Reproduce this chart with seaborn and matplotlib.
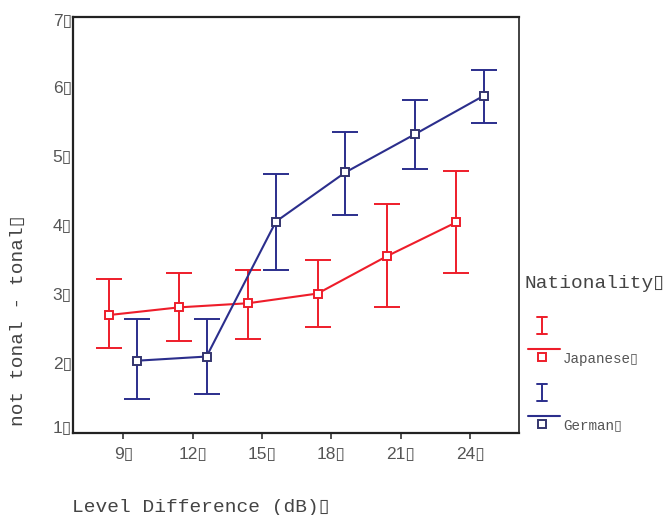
import pandas as pd
import matplotlib
matplotlib.use('Agg')
import matplotlib.pyplot as plt
import matplotlib.transforms as mtransforms
from matplotlib.lines import Line2D
import seaborn as sns

# Values
levels = [9, 12, 15, 18, 21, 24]
japanese_mean = [2.70, 2.81, 2.87, 3.01, 3.55, 4.04]
japanese_low = [2.22, 2.33, 2.35, 2.52, 2.81, 3.30]
japanese_high = [3.22, 3.30, 3.35, 3.49, 4.30, 4.78]
german_mean = [2.04, 2.10, 4.05, 4.76, 5.31, 5.87]
german_low = [1.48, 1.56, 3.35, 4.15, 4.81, 5.47]
german_high = [2.64, 2.64, 4.73, 5.34, 5.81, 6.24]
y_ticks = [1, 2, 3, 4, 5, 6, 7]

BOX = '\u25af'  # the missing-glyph box shown after every label
RED = '#ee1d2a'
BLUE = '#2b2e8c'
BLUE_EDGE = '#34356e'

df = pd.concat([
    pd.DataFrame({'level': levels, 'mean': japanese_mean, 'low': japanese_low,
                  'high': japanese_high, 'Nationality': 'Japanese'}),
    pd.DataFrame({'level': levels, 'mean': german_mean, 'low': german_low,
                  'high': german_high, 'Nationality': 'German'}),
])
# dodge the two groups a little around each level
dodge = {'Japanese': -0.6, 'German': 0.6}
df['x'] = df['level'] + df['Nationality'].map(dodge)

sns.set_style('white')
plt.rcParams['font.family'] = ['Liberation Mono', 'Noto Sans CJK JP', 'DejaVu Sans']

W, H = 666, 515
fig = plt.figure(figsize=(W / 100, H / 100), dpi=100)
ax = fig.add_axes([73.3 / W, 1 - 432.7 / H, (519.3 - 73.3) / W, (432.7 - 17.3) / H])

styles = {'Japanese': (RED, RED), 'German': (BLUE, BLUE_EDGE)}
for nat in ['Japanese', 'German']:
    sub = df[df['Nationality'] == nat]
    col, edge = styles[nat]
    ax.errorbar(sub['x'], sub['mean'],
                yerr=[sub['mean'] - sub['low'], sub['high'] - sub['mean']],
                fmt='none', ecolor=col, elinewidth=1.4, capsize=9.6, capthick=1.4, zorder=2)
    sns.lineplot(data=sub, x='x', y='mean', ax=ax, color=col, linewidth=1.5,
                 marker='s', markersize=6, markerfacecolor='white',
                 markeredgecolor=edge, markeredgewidth=1.4, legend=False, zorder=3)

ax.set_xlim(6.84, 26.12)
ax.set_ylim(1, 7)
ax.set_xticks(levels)
ax.set_xticklabels([f'{v}{BOX}' for v in levels])
ax.set_yticks(y_ticks)
ax.set_yticklabels([f'{v}{BOX}' for v in y_ticks])
ax.set_xlabel('')
ax.set_ylabel('')

tick_family = ['Liberation Sans', 'Noto Sans CJK JP', 'DejaVu Sans']
for lab in ax.get_xticklabels() + ax.get_yticklabels():
    lab.set_fontfamily(tick_family)
    lab.set_fontsize(12.5)
    lab.set_color('#555555')
ax.tick_params(axis='x', length=4, width=1.2, color='#333333', pad=6, bottom=True)
ax.tick_params(axis='y', length=0, pad=1)

# edge labels sit inside the axis range in the original
ylabs = ax.get_yticklabels()
ylabs[0].set_transform(ylabs[0].get_transform() +
                       mtransforms.ScaledTranslation(0, 6 / 100, fig.dpi_scale_trans))
ylabs[-1].set_transform(ylabs[-1].get_transform() +
                        mtransforms.ScaledTranslation(0, -3 / 100, fig.dpi_scale_trans))

for side in ['left', 'right', 'top', 'bottom']:
    ax.spines[side].set_visible(True)
    ax.spines[side].set_color('#222222')
    ax.spines[side].set_linewidth(1.6)
ax.spines['right'].set_linewidth(1.2)
ax.grid(False)

fig.text(18.3 / W, 1 - 321 / H, f'not tonal - tonal{BOX}', rotation=90,
         ha='center', va='center', fontsize=14, color='#444444')
fig.text(71.7 / W, 1 - 507 / H, f'Level Difference (dB){BOX}',
         ha='left', va='center', fontsize=14, color='#444444')

# legend drawn in SPSS style: error bar icon above, line + marker below
def px(x, y):
    return x / W, 1 - y / H

fig.text(*px(525, 283), f'Nationality{BOX}', ha='left', va='center',
         fontsize=14, color='#444444')
for nat, top in [('Japanese', 317.3), ('German', 384.0)]:
    col, edge = styles[nat]
    bx = 541.7
    bot = top + 16.5
    for xs, ys in [([bx, bx], [top, bot]), ([bx - 5, bx + 5], [top, top]),
                   ([bx - 5, bx + 5], [bot, bot])]:
        fig.add_artist(Line2D([x / W for x in xs], [1 - y / H for y in ys],
                              color=col, linewidth=1.4))
    ly = top + 31.5
    fig.add_artist(Line2D([528.3 / W, 560 / W], [1 - ly / H] * 2, color=col, linewidth=1.5))
    fig.add_artist(Line2D([bx / W], [1 - (ly + 8) / H], marker='s', markersize=6,
                          markerfacecolor='white', markeredgecolor=edge,
                          markeredgewidth=1.4, linestyle='none'))
    fig.text(*px(563.3, ly + 10), f'{nat}{BOX}', ha='left', va='center',
             fontsize=10.3, color='#555555')

fig.savefig('out.png', dpi=100)
